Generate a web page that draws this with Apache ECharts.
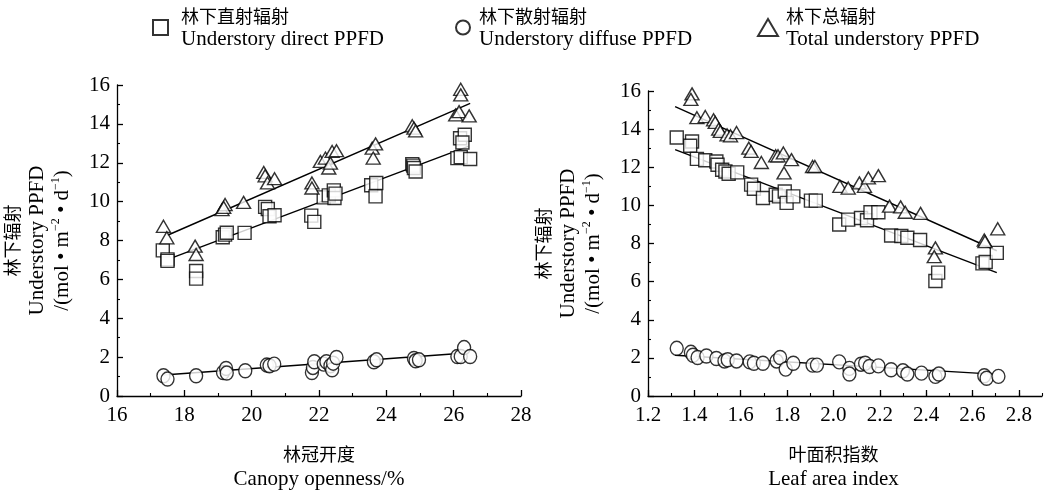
<!DOCTYPE html>
<html>
<head>
<meta charset="utf-8">
<script src="https://cdn.jsdelivr.net/npm/echarts@6/dist/echarts.min.js"></script>
<style>html,body{margin:0;padding:0;background:#fff;}#c{width:1046px;height:495px;}</style>
</head>
<body>
<div id="c"></div>
<script>
// ---------- data ----------
const openDirect = [[17.36,7.49],[17.5,7.03],[17.5,6.95],[18.35,6.43],[18.35,6.04],[19.14,8.17],[19.21,8.3],[19.26,8.4],[19.79,8.39],[20.4,9.73],[20.48,9.62],[20.53,9.25],[20.68,9.3],[21.77,9.28],[21.86,8.96],[22.14,10.22],[22.29,10.32],[22.44,10.58],[22.46,10.19],[22.49,10.41],[23.55,10.84],[23.7,10.96],[23.68,10.27],[24.77,11.93],[24.8,11.85],[24.82,11.73],[24.87,11.55],[26.19,13.26],[26.33,13.44],[26.26,13.04],[26.11,12.24],[26.21,12.29],[26.49,12.19]];
const openTotal = [[17.38,8.73],[17.48,8.14],[18.32,7.71],[18.35,7.28],[19.12,9.59],[19.21,9.85],[19.17,9.7],[19.76,9.96],[20.36,11.5],[20.4,11.33],[20.47,10.96],[20.68,11.18],[21.79,10.96],[21.79,10.7],[22.04,12.07],[22.19,12.24],[22.29,11.73],[22.34,11.98],[22.39,12.58],[22.52,12.62],[23.58,12.75],[23.68,12.97],[23.61,12.24],[24.77,13.9],[24.82,13.78],[24.87,13.64],[26.26,16.12],[26.21,15.78],[26.21,15.49],[26.06,14.46],[26.16,14.63],[26.46,14.41]];
const openDiffuse = [[17.38,1.04],[17.5,0.87],[18.35,1.04],[19.15,1.21],[19.24,1.42],[19.26,1.18],[19.81,1.3],[20.45,1.59],[20.53,1.56],[20.67,1.64],[21.79,1.21],[21.82,1.47],[21.86,1.76],[22.14,1.64],[22.22,1.76],[22.34,1.56],[22.39,1.35],[22.42,1.69],[22.52,1.98],[23.63,1.76],[23.71,1.86],[24.82,1.93],[24.87,1.81],[24.97,1.86],[26.11,2.03],[26.21,2.03],[26.31,2.49],[26.49,2.03]];
const openFitTotal = [[17.5,8.27],[26.49,15.06]];
const openFitDirect = [[17.63,7.11],[26.43,12.84]];
const openFitDiffuse = [[17.38,1.08],[26.36,2.21]];

const laiTotal = [[1.317,16.2],[1.39,15.85],[1.385,15.56],[1.411,14.6],[1.447,14.66],[1.483,14.49],[1.49,14.35],[1.505,14.0],[1.512,13.88],[1.541,13.7],[1.556,13.65],[1.582,13.82],[1.635,13.0],[1.645,12.83],[1.689,12.25],[1.751,12.6],[1.761,12.6],[1.784,12.75],[1.787,11.7],[1.819,12.4],[1.91,12.04],[1.92,12.04],[2.028,11.0],[2.064,10.91],[2.112,11.18],[2.134,11.0],[2.151,11.44],[2.194,11.56],[2.242,9.96],[2.29,9.92],[2.31,9.64],[2.376,9.58],[2.44,7.77],[2.435,7.31],[2.651,8.18],[2.654,8.1],[2.709,8.77]];
const laiDirect = [[1.324,13.56],[1.39,13.35],[1.382,13.13],[1.411,12.44],[1.447,12.37],[1.495,12.3],[1.5,12.13],[1.52,11.87],[1.534,11.78],[1.548,11.66],[1.585,11.73],[1.645,11.09],[1.657,10.87],[1.696,10.39],[1.751,10.56],[1.765,10.47],[1.79,10.73],[1.798,10.13],[1.827,10.47],[1.903,10.25],[1.924,10.25],[2.025,9.0],[2.064,9.25],[2.119,9.34],[2.145,9.22],[2.16,9.64],[2.194,9.64],[2.249,8.42],[2.293,8.39],[2.319,8.3],[2.374,8.18],[2.44,6.03],[2.452,6.47],[2.643,6.96],[2.657,7.03],[2.705,7.51]];
const laiDiffuse = [[1.324,2.5],[1.385,2.29],[1.394,2.14],[1.414,2.02],[1.452,2.1],[1.495,1.97],[1.53,1.84],[1.544,1.9],[1.582,1.84],[1.639,1.79],[1.657,1.72],[1.696,1.72],[1.755,1.84],[1.77,2.02],[1.794,1.41],[1.827,1.72],[1.91,1.62],[1.929,1.62],[2.025,1.79],[2.069,1.45],[2.069,1.15],[2.119,1.67],[2.137,1.72],[2.156,1.55],[2.194,1.58],[2.249,1.38],[2.3,1.32],[2.319,1.15],[2.38,1.2],[2.44,1.03],[2.455,1.15],[2.651,1.06],[2.661,0.93],[2.712,1.03]];
const laiFitTotal = [[1.317,15.18],[2.705,7.62]];
const laiFitDirect = [[1.317,12.92],[2.705,6.47]];
const laiFitDiffuse = [[1.317,2.14],[2.69,1.15]];

const laiMajorTicks = [1.2,1.4,1.6,1.8,2.0,2.2,2.4,2.6,2.8];
const legendCn = {direct:'林下直射辐射', diffuse:'林下散射辐射', total:'林下总辐射'};
const legendEn = {direct:'Understory direct PPFD', diffuse:'Understory diffuse PPFD', total:'Total understory PPFD'};
const yTitleCn = '林下辐射';
const yTitleEn = 'Understory PPFD';
const xTitle1Cn = '林冠开度', xTitle1En = 'Canopy openness/%';
const xTitle2Cn = '叶面积指数', xTitle2En = 'Leaf area index';

// ---------- styles ----------
const CJK = 'Noto Sans CJK SC';
const black = '#000';
const richTitle = {
  cn: {fontFamily: CJK, fontSize: 18, color: black, lineHeight: 25},
  en: {fontFamily: 'Liberation Serif', fontSize: 21, color: black, lineHeight: 25},
  sup: {fontFamily: 'Liberation Serif', fontSize: 12, color: black, verticalAlign: 'top', lineHeight: 25}
};
const yName = '{cn|' + yTitleCn + '}\n{en|' + yTitleEn + '}\n{en|/(mol • m}{sup|−2}{en| • d}{sup|−1}{en|)}';

function yAxisCfg(grid) {
  return {
    type: 'value', gridIndex: grid, min: 0, max: 16, interval: 2,
    axisLine: {show: true, onZero: false, lineStyle: {color: black, width: 1.3}},
    axisTick: {show: true, inside: true, length: 6, lineStyle: {color: black, width: 1.3}},
    minorTick: {show: true, splitNumber: 2, length: 3, lineStyle: {color: black, width: 1.1}},
    axisLabel: {color: black, fontFamily: 'Liberation Serif', fontSize: 21, margin: 7},
    splitLine: {show: false},
    name: yName, nameLocation: 'middle', nameRotate: 90, nameGap: 42,
    nameTextStyle: {rich: richTitle}
  };
}

const scatterStyle = {color: '#fff', borderColor: black, borderWidth: 1.4};
function scatter(name, data, xi, yi, symbol, size) {
  return {type: 'scatter', name: name, data: data, xAxisIndex: xi, yAxisIndex: yi,
    symbol: symbol, symbolSize: size, itemStyle: scatterStyle, z: 3,
    emphasis: {disabled: true}, silent: true};
}
function fit(data, xi, yi) {
  return {type: 'line', data: data, xAxisIndex: xi, yAxisIndex: yi, symbol: 'none',
    lineStyle: {color: black, width: 1.4}, z: 1, silent: true};
}
function legendCfg(key, left, w, h, gap) {
  return {
    data: [key], left: left, top: 7, padding: 0, itemWidth: w, itemHeight: h,
    selectedMode: false,
    formatter: function (n) { return '{cn|' + legendCn[n] + '}\n{en|' + legendEn[n] + '}'; },
    textStyle: {padding: [0, 0, 0, gap], rich: {
      cn: {fontFamily: CJK, fontSize: 18, color: black, lineHeight: 23},
      en: {fontFamily: 'Liberation Serif', fontSize: 21, color: black, lineHeight: 23}
    }}
  };
}

const option = {
  animation: false,
  backgroundColor: '#fff',
  legend: [
    legendCfg('direct', 152, 15, 15, 8),
    legendCfg('diffuse', 455, 14, 16, 4),
    legendCfg('total', 757, 20, 17, 3)
  ],
  grid: [
    {left: 117, top: 85, width: 404, height: 312},
    {left: 648, top: 91, width: 394, height: 306}
  ],
  xAxis: [
    {
      type: 'value', gridIndex: 0, min: 16, max: 28, interval: 2,
      axisLine: {show: true, onZero: false, lineStyle: {color: black, width: 1.3}},
      axisTick: {show: true, inside: true, length: 6, lineStyle: {color: black, width: 1.3}},
      minorTick: {show: true, splitNumber: 2, length: 3, lineStyle: {color: black, width: 1.1}},
      axisLabel: {color: black, fontFamily: 'Liberation Serif', fontSize: 21, margin: 9},
      splitLine: {show: false},
      name: '{cn|' + xTitle1Cn + '}\n{en|' + xTitle1En + '}', nameLocation: 'middle', nameGap: 46,
      nameTextStyle: {rich: richTitle}
    },
    {
      type: 'value', gridIndex: 1, min: 1.2, max: 2.9, interval: 0.1, position: 'bottom',
      axisLine: {show: true, onZero: false, lineStyle: {color: black, width: 1.3}},
      axisTick: {show: true, inside: true, length: 3, lineStyle: {color: black, width: 1.1}},
      axisLabel: {color: black, fontFamily: 'Liberation Serif', fontSize: 21, margin: 9,
        customValues: laiMajorTicks, formatter: function (v) { return v.toFixed(1); }},
      splitLine: {show: false},
      name: '{cn|' + xTitle2Cn + '}\n{en|' + xTitle2En + '}', nameLocation: 'middle', nameGap: 46,
      nameTextStyle: {rich: richTitle, padding: [0, 23, 0, 0]}
    },
    {
      type: 'value', gridIndex: 1, min: 1.2, max: 2.9, position: 'bottom',
      axisLine: {show: false, onZero: false},
      axisTick: {show: true, inside: true, length: 6, customValues: laiMajorTicks, lineStyle: {color: black, width: 1.3}},
      axisLabel: {show: false},
      splitLine: {show: false}
    }
  ],
  yAxis: [yAxisCfg(0), yAxisCfg(1)],
  series: [
    fit(openFitTotal, 0, 0), fit(openFitDirect, 0, 0), fit(openFitDiffuse, 0, 0),
    fit(laiFitTotal, 1, 1), fit(laiFitDirect, 1, 1), fit(laiFitDiffuse, 1, 1),
    scatter('direct', openDirect, 0, 0, 'rect', 13),
    scatter('diffuse', openDiffuse, 0, 0, 'circle', [13, 14]),
    scatter('total', openTotal, 0, 0, 'triangle', [14, 12]),
    scatter('direct', laiDirect, 1, 1, 'rect', 13),
    scatter('diffuse', laiDiffuse, 1, 1, 'circle', [13, 14]),
    scatter('total', laiTotal, 1, 1, 'triangle', [14, 12])
  ]
};
const chart = echarts.init(document.getElementById('c'), null, {renderer: 'canvas'});
chart.setOption(option);
</script>
</body>
</html>
